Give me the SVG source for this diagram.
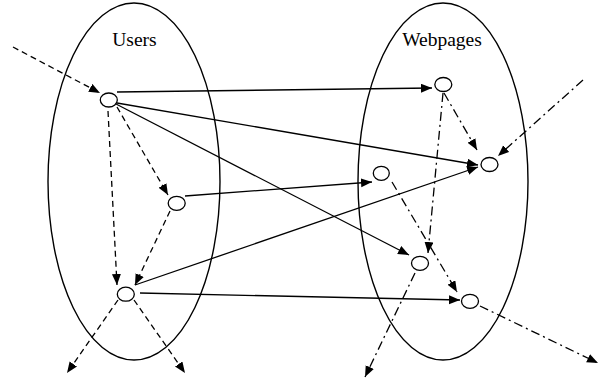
<svg xmlns="http://www.w3.org/2000/svg" width="609" height="383" viewBox="0 0 609 383">
  <style>
    .set { fill: none; stroke: #000; stroke-width: 1.4; }
    .node { fill: #fff; stroke: #000; stroke-width: 1.3; }
    .label { font-family: "Liberation Serif", "Times New Roman", serif; font-size: 19.5px; fill: #000; text-anchor: middle; }
    .edge { fill: none; stroke: #000; stroke-width: 1.3; }
    .solid { marker-end: url(#arrow); }
    .dashed { stroke-dasharray: 6 4; marker-end: url(#arrow); }
    .dashdot { stroke-dasharray: 9 4 2 4; marker-end: url(#arrow); }
  </style>
  <defs>
    <marker id="arrow" markerUnits="userSpaceOnUse" markerWidth="12" markerHeight="10" refX="11" refY="4.5" orient="auto">
      <path d="M0,0 L11,4.5 L0,9 Z" fill="#000"/>
    </marker>
  </defs>
  <rect width="609" height="383" fill="#fff"/>

  <!-- the two sets -->
  <g id="users">
    <ellipse class="set" cx="134" cy="181.5" rx="86" ry="178.5"/>
    <text class="label" x="134.5" y="46">Users</text>
  </g>
  <g id="webpages">
    <ellipse class="set" cx="443" cy="181.5" rx="85" ry="178.5"/>
    <text class="label" x="442" y="46">Webpages</text>
  </g>

  <g id="connectors">
    <!-- user to webpage links -->
    <line class="edge solid" x1="117" y1="92" x2="432" y2="88"/>
    <line class="edge solid" x1="117" y1="103" x2="478" y2="165"/>
    <line class="edge solid" x1="116" y1="104" x2="409" y2="255"/>
    <line class="edge solid" x1="185" y1="196" x2="372" y2="182"/>
    <line class="edge solid" x1="135" y1="285" x2="478" y2="167"/>
    <line class="edge solid" x1="140" y1="293" x2="460" y2="300"/>
    <!-- user to user links -->
    <line class="edge dashed" x1="13" y1="47" x2="100" y2="93"/>
    <line class="edge dashed" x1="117" y1="107" x2="168" y2="195"/>
    <line class="edge dashed" x1="108" y1="111" x2="117" y2="285"/>
    <line class="edge dashed" x1="170" y1="211" x2="135" y2="285"/>
    <line class="edge dashed" x1="118" y1="300" x2="67" y2="373"/>
    <line class="edge dashed" x1="134" y1="300" x2="185" y2="373"/>
    <!-- webpage to webpage links -->
    <line class="edge dashdot" x1="583" y1="80" x2="498" y2="156"/>
    <line class="edge dashdot" x1="444" y1="93" x2="477" y2="150"/>
    <line class="edge dashdot" x1="443" y1="93" x2="428" y2="253"/>
    <line class="edge dashdot" x1="392" y1="182" x2="457" y2="292"/>
    <line class="edge dashdot" x1="415" y1="273" x2="365" y2="377"/>
    <line class="edge dashdot" x1="480" y1="306" x2="598" y2="363"/>
  </g>

  <!-- user nodes -->
  <g id="u1"><ellipse class="node" cx="108.8" cy="100" rx="8.5" ry="7"/></g>
  <g id="u2"><ellipse class="node" cx="176.7" cy="203.3" rx="8.5" ry="7"/></g>
  <g id="u3"><ellipse class="node" cx="125.8" cy="294.2" rx="8.5" ry="7"/></g>
  <!-- webpage nodes -->
  <g id="w1"><ellipse class="node" cx="443.3" cy="84.5" rx="8.5" ry="7"/></g>
  <g id="w2"><ellipse class="node" cx="489.5" cy="164.5" rx="8.5" ry="7"/></g>
  <g id="w3"><ellipse class="node" cx="381.3" cy="173.3" rx="8" ry="7"/></g>
  <g id="w4"><ellipse class="node" cx="420" cy="263.3" rx="8.5" ry="7"/></g>
  <g id="w5"><ellipse class="node" cx="470" cy="301.3" rx="8.5" ry="7"/></g>
</svg>
